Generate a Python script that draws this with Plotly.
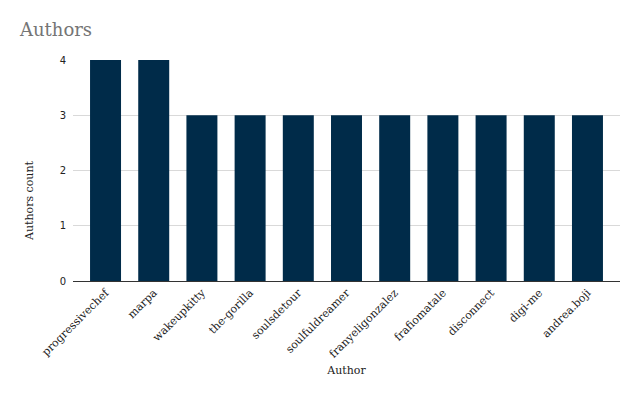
import plotly.graph_objects as go

authors = ["progressivechef", "marpa", "wakeupkitty", "the-gorilla", "soulsdetour",
           "soulfuldreamer", "franyeligonzalez", "frafiomatale", "disconnect", "digi-me", "andrea.boji"]
counts = [4, 4, 3, 3, 3, 3, 3, 3, 3, 3, 3]

fig = go.Figure(go.Bar(x=authors, y=counts, marker_color="#002b49", marker_line_width=0))
fig.update_layout(
    width=632, height=389,
    margin=dict(l=65, r=20, t=52, b=116),
    paper_bgcolor="white", plot_bgcolor="white",
    bargap=0.357,
    title=dict(text="Authors", x=12 / 632, xanchor="left", y=1 - 22 / 389, yanchor="middle",
               font=dict(family="DejaVu Serif", size=18, color="#757575")),
    font=dict(family="DejaVu Serif", size=10, color="#222"),
    showlegend=False,
    annotations=[dict(text="Authors count", textangle=-90, xref="paper", yref="paper",
                      x=-0.0786, y=0.362, xanchor="center", yanchor="middle",
                      showarrow=False, font=dict(size=11, color="#222"))],
)
fig.update_xaxes(tickangle=-45, title=dict(text="Author", font=dict(size=11), standoff=6),
                 range=[-0.675, len(authors) - 1 + 0.675],
                 tickfont=dict(size=11), showgrid=False, showline=True,
                 linecolor="#333", linewidth=1, automargin=False)
fig.update_yaxes(range=[0, 4], dtick=1, gridcolor="#d9d9d9", zeroline=False,
                 tickfont=dict(family="DejaVu Sans", size=10), ticks="outside",
                 tickcolor="rgba(0,0,0,0)", ticklen=4, automargin=False)
fig.write_html("out.html")
